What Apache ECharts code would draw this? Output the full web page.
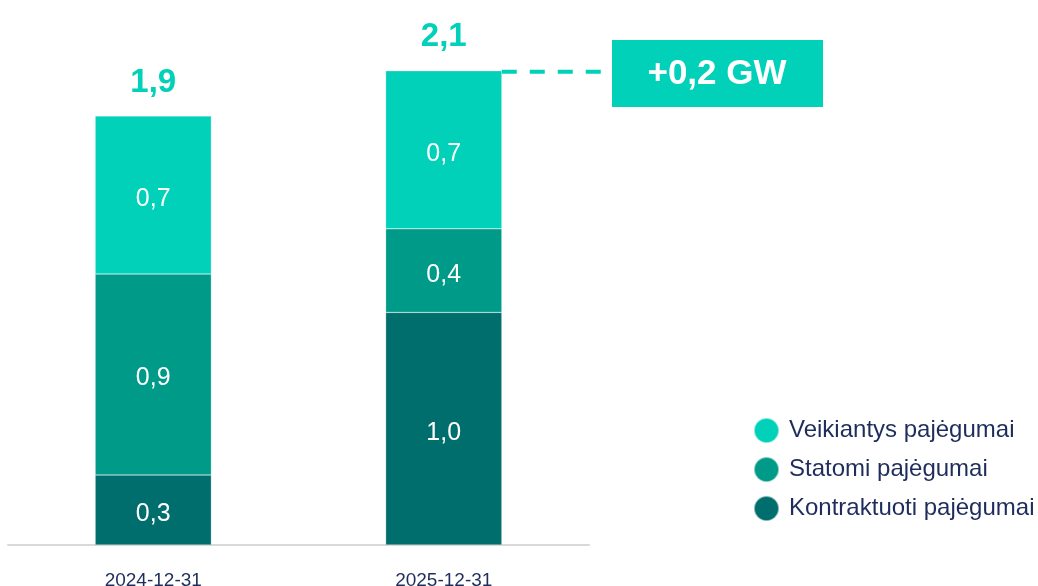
<!DOCTYPE html>
<html>
<head>
<meta charset="utf-8">
<script src="https://cdn.jsdelivr.net/npm/echarts@6/dist/echarts.min.js"></script>
<style>
html,body{margin:0;padding:0;background:#fff;}
#main{width:1038px;height:586px;}
</style>
</head>
<body>
<div id="main"></div>
<script>
// duomenys
var categories = ['2024-12-31', '2025-12-31'];
var kontraktuoti = [0.31, 1.03];
var statomi = [0.89, 0.37];
var veikiantys = [0.70, 0.70];
var totals = [1.9, 2.1];
var deltaText = '+0,2 GW';

var cLight = '#00D1B8', cMid = '#009A88', cDark = '#006E6C', cText = '#1F2D5C';

function fmt(v){
	return v.toFixed(1).replace('.', ',');
}

var segLabel = {
	show: true,
	position: 'inside',
	offset: [0, 4],
	color: '#fff',
	fontSize: 25,
	fontFamily: 'Liberation Sans, Arial',
	formatter: function(p){ return fmt(p.value); }
};

var myChart = echarts.init(document.getElementById('main'));
var option = {
	animation: false,
	grid: { left: 8, right: 449, top: 3, bottom: 41, outerBoundsMode: 'none', containLabel: false },
	legend: {
		orient: 'vertical',
		left: 748,
		top: 412,
		icon: 'circle',
		itemWidth: 25,
		itemHeight: 25,
		itemGap: 12,
		data: ['Veikiantys pajėgumai', 'Statomi pajėgumai', 'Kontraktuoti pajėgumai'],
		textStyle: { fontSize: 24, color: cText, fontFamily: 'Liberation Sans, Arial', padding: [0, 0, 0, 5] }
	},
	xAxis: {
		type: 'category',
		data: categories,
		axisLine: { lineStyle: { color: '#D9D9D9', width: 2 } },
		axisTick: { show: false },
		axisLabel: { color: cText, fontSize: 19, margin: 26, fontFamily: 'Liberation Sans, Arial' }
	},
	yAxis: {
		type: 'value',
		min: 0,
		max: 2.4,
		show: false,
		splitLine: { show: false }
	},
	series: [
		{
			name: 'Kontraktuoti pajėgumai', type: 'bar', stack: 'gw', barWidth: '40%',
			data: kontraktuoti,
			itemStyle: { color: cDark, borderColor: 'rgba(255,255,255,0.5)', borderWidth: 0.5 },
			label: segLabel
		},
		{
			name: 'Statomi pajėgumai', type: 'bar', stack: 'gw',
			data: statomi,
			itemStyle: { color: cMid, borderColor: 'rgba(255,255,255,0.5)', borderWidth: 0.5 },
			label: segLabel
		},
		{
			name: 'Veikiantys pajėgumai', type: 'bar', stack: 'gw',
			data: veikiantys,
			itemStyle: { color: cLight, borderColor: 'rgba(255,255,255,0.5)', borderWidth: 0.5 },
			label: segLabel
		},
		{
			name: 'total', type: 'bar', stack: 'gw',
			data: [0, 0],
			itemStyle: { color: 'transparent' },
			label: {
				show: true,
				position: 'top',
				distance: 17,
				color: cLight,
				fontSize: 33,
				fontWeight: 'bold',
				fontFamily: 'Liberation Sans, Arial',
				formatter: function(p){ return fmt(totals[p.dataIndex]); }
			}
		}
	]
};
myChart.setOption(option);

// +0,2 GW anotacija
var top2 = myChart.convertToPixel({ gridIndex: 0 }, [1, totals[1]]);
var barHalf = 290 * 0.4 / 2;
myChart.setOption({
	graphic: [
		{
			type: 'line',
			shape: { x1: top2[0] + barHalf, y1: top2[1] + 1, x2: 612, y2: top2[1] + 1 },
			style: { stroke: cLight, lineWidth: 4, lineDash: [15, 13] }
		},
		{
			type: 'rect',
			shape: { x: 612, y: 40, width: 211, height: 67 },
			style: { fill: cLight }
		},
		{
			type: 'text',
			x: 717, y: 74,
			style: {
				text: deltaText, fill: '#fff', fontSize: 35, fontWeight: 'bold',
				fontFamily: 'Liberation Sans, Arial', align: 'center', verticalAlign: 'middle'
			}
		}
	]
});
</script>
</body>
</html>
